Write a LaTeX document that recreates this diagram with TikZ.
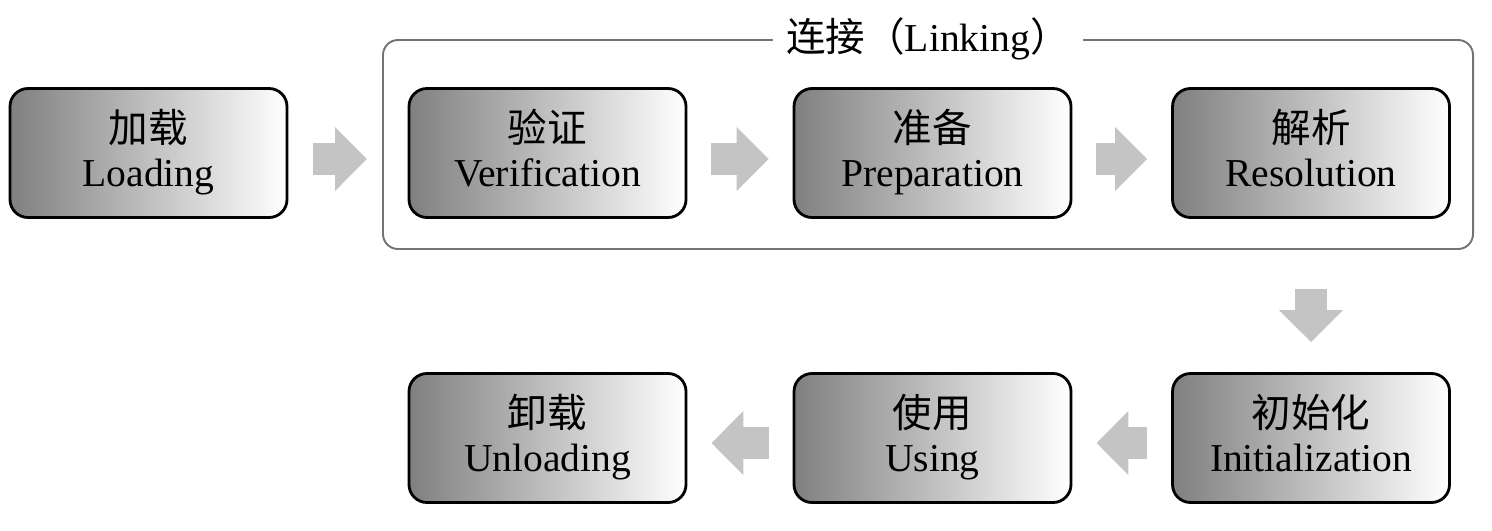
\documentclass[tikz,border=0pt]{standalone}
\usepackage{fontspec}
\setmainfont{Liberation Serif}
\newfontfamily\cjk{Noto Sans CJK SC}
\usetikzlibrary{arrows.meta}
% two-line stage label: Chinese above, English below, fixed baselines
\newcommand{\stagelabel}[2]{\raisebox{0pt}[18pt][0pt]{\cjk #1}\\\raisebox{0pt}[0pt][4.4pt]{#2}}
\begin{document}
\begin{tikzpicture}[x=0.2mm,y=-0.2mm]
        \tikzset{
            stage/.style={rectangle, rounded corners=3.6mm, minimum width=55.4mm,
            minimum height=25.8mm, left color=black!50, right color=white,
            draw=black, line width=1.6pt, align=center,
            font=\fontsize{22.5}{25}\selectfont},
            group/.style={rectangle, rounded corners=3mm, minimum width=218mm,
            minimum height=41.8mm, draw=black!55, line width=1.1pt},
            title/.style={fill=white, inner xsep=2.6mm, font=\fontsize{22.5}{23}\selectfont},
            flow/.style={-{Triangle[width=12.4mm,length=6.4mm]}, black!23,
            line width=6.4mm, shorten <=4.8mm, shorten >=4.8mm}
            }

            \useasboundingbox (0,0) rectangle (1492,530);

            \node[group] (link) at (928,144.5) {};
            \node[title] (linktitle) at (link.north) {{\cjk 连接（}Linking{\cjk ）}};

            \node[stage] (load) at (148.5,153) {\stagelabel{加载}{Loading}};
            \node[stage] (ver) at (547.5,153) {\stagelabel{验证}{Verification}};
            \node[stage] (prep) at (932.5,153) {\stagelabel{准备}{Preparation}};
            \node[stage] (res) at (1311,153) {\stagelabel{解析}{Resolution}};
            \node[stage] (init) at (1311,438) {\stagelabel{初始化}{Initialization}};
            \node[stage] (use) at (932.5,438) {\stagelabel{使用}{Using}};
            \node[stage] (unload) at (547.5,438) {\stagelabel{卸载}{Unloading}};

            \draw[flow, shorten <=5mm, shorten >=3mm] ([yshift=-1.2mm]load.east) -- ([yshift=-1.2mm]load.east -| link.west);
            \draw[flow] ([yshift=-1.2mm]ver.east) -- ([yshift=-1.2mm]prep.west);
            \draw[flow] ([yshift=-1.2mm]prep.east) -- ([yshift=-1.2mm]res.west);
            \draw[flow, shorten <=14mm, shorten >=6mm] (res.south) -- (init.north);
            \draw[flow] ([yshift=-1mm]init.west) -- ([yshift=-1mm]use.east);
            \draw[flow] ([yshift=-1mm]use.west) -- ([yshift=-1mm]unload.east);
        \end{tikzpicture}
\end{document}
